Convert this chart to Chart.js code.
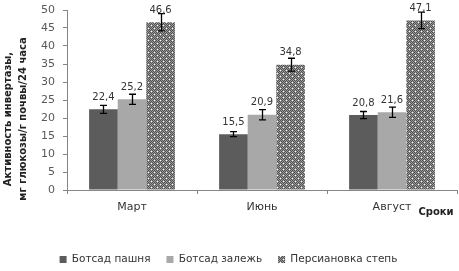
<!DOCTYPE html>
<html><head><meta charset="utf-8">
<script src="https://cdn.jsdelivr.net/npm/chart.js@4/dist/chart.umd.min.js"></script>
<style>html,body{margin:0;padding:0;background:#fff;}#wrap{width:459px;height:271px;position:relative;}</style>
</head><body><div id="wrap"><canvas id="c" width="459" height="271"></canvas></div>
<script>
const categories = ['Март', 'Июнь', 'Август'];
const seriesNames = ['Ботсад пашня', 'Ботсад залежь', 'Персиановка степь'];
const pashnya = [22.4, 15.5, 20.8];
const zalezh = [25.2, 20.9, 21.6];
const step = [46.6, 34.8, 47.1];
const errPashnya = [1.1, 0.7, 1.0];
const errZalezh = [1.4, 1.4, 1.4];
const errStep = [2.4, 1.8, 2.3];
const yTicks = [0, 5, 10, 15, 20, 25, 30, 35, 40, 45, 50];
const yTitle = ['Активность инвертазы,', 'мг глюкозы/г почвы/24 часа'];
const xTitle = 'Сроки';

function makePattern() {
  const t = document.createElement('canvas');
  t.width = 6; t.height = 6;
  const g = t.getContext('2d');
  for (let y = 0; y < 6; y++) for (let x = 0; x < 6; x++) {
    g.fillStyle = ((x + y) % 2 === 0) ? '#505050' : '#9a9a9a';
    g.fillRect(x, y, 1, 1);
  }
  g.fillStyle = '#ffffff';
  g.fillRect(1, 1, 1, 1); g.fillRect(4, 4, 1, 1);
  return g.createPattern(t, 'repeat');
}
const pat = makePattern();

const errors = [errPashnya, errZalezh, errStep];

const overlay = {
  id: 'overlay',
  beforeUpdate(chart) {
    const lg = chart.legend;
    if (lg && !lg._wrapped) {
      const orig = lg.fit;
      lg.fit = function () { orig.call(this); this.height = 32.75; };
      lg._wrapped = true;
    }
  },
  afterDatasetsDraw(chart) {
    const ctx = chart.ctx;
    const ys = chart.scales.y;
    ctx.save();
    chart.data.datasets.forEach((ds, i) => {
      const meta = chart.getDatasetMeta(i);
      meta.data.forEach((el, j) => {
        const v = ds.data[j], e = errors[i][j];
        const x = Math.round(el.x) + 0.5;
        const yt = ys.getPixelForValue(v + e), yb = ys.getPixelForValue(v - e);
        ctx.strokeStyle = '#000'; ctx.lineWidth = 1.3;
        ctx.beginPath();
        ctx.moveTo(x, yt); ctx.lineTo(x, yb);
        ctx.moveTo(x - 3.5, yt); ctx.lineTo(x + 3.5, yt);
        ctx.moveTo(x - 3.5, yb); ctx.lineTo(x + 3.5, yb);
        ctx.stroke();
        ctx.fillStyle = '#333';
        ctx.font = '10px "DejaVu Sans"';
        ctx.textAlign = 'center'; ctx.textBaseline = 'alphabetic';
        ctx.fillText(String(v).replace('.', ','), el.x, el.y - 9.5);
      });
    });
    ctx.restore();
  },
  afterDraw(chart) {
    const ctx = chart.ctx;
    ctx.save();
    ctx.fillStyle = '#222';
    ctx.font = 'bold 10px "DejaVu Sans"';
    ctx.textAlign = 'center'; ctx.textBaseline = 'middle';
    ctx.fillText(xTitle, 436, 212);
    ctx.translate(8, 119); ctx.rotate(-Math.PI / 2);
    ctx.font = 'bold 10px "DejaVu Sans"';
    ctx.fillText(yTitle[0], 0, 0);
    ctx.fillText(yTitle[1], 0, 15);
    ctx.restore();
  }
};

new Chart(document.getElementById('c'), {
  type: 'bar',
  data: {
    labels: categories,
    datasets: [
      { label: seriesNames[0], data: pashnya, backgroundColor: '#5c5c5c', borderWidth: 0 },
      { label: seriesNames[1], data: zalezh, backgroundColor: '#a8a8a8', borderWidth: 0 },
      { label: seriesNames[2], data: step, backgroundColor: pat, borderWidth: 0 }
    ]
  },
  options: {
    responsive: false,
    animation: false,
    devicePixelRatio: 1,
    layout: { padding: { top: 10, right: 2, left: 0, bottom: 0 } },
    datasets: { bar: { categoryPercentage: 0.66, barPercentage: 1.0 } },
    plugins: {
      legend: {
        position: 'bottom',
        labels: {
          boxWidth: 7, boxHeight: 7, padding: 16, color: '#333',
          font: { family: 'DejaVu Sans', size: 10.5 }
        }
      },
      tooltip: { enabled: false }
    },
    scales: {
      x: {
        afterFit(s) { s.height = 48.25; s.paddingLeft = 0; s.paddingRight = 0; },
        grid: { display: true, drawOnChartArea: false, drawTicks: true, tickLength: 4, color: '#868686', offset: true },
        border: { color: '#868686' },
        ticks: { color: '#333', padding: 7, font: { family: 'DejaVu Sans', size: 11 } }
      },
      y: {
        min: 0, max: 50,
        afterFit(s) { s.width = 67; s.paddingTop = 0; s.paddingBottom = 0; },
        afterBuildTicks(s) { s.ticks = yTicks.map(v => ({ value: v })); },
        grid: { display: true, drawOnChartArea: false, drawTicks: true, tickLength: 4, color: '#868686' },
        border: { color: '#868686' },
        ticks: { color: '#595959', padding: 8, font: { family: 'DejaVu Sans', size: 11 } }
      }
    }
  },
  plugins: [overlay]
});
</script></body></html>
